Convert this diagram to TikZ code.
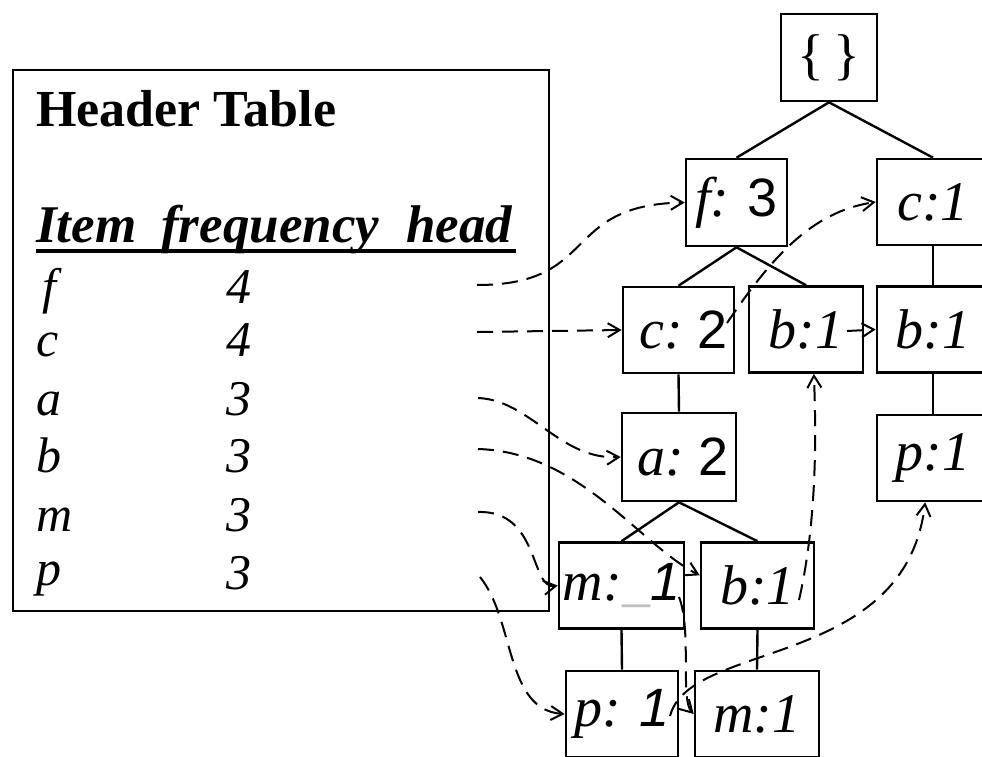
\documentclass[tikz,border=0pt]{standalone}
\usepackage{fontspec}
\setmainfont{Liberation Serif}
\newfontfamily\sansnum{Liberation Sans}
\usetikzlibrary{arrows.meta}

\newcommand{\nup}[1]{{\sansnum\upshape\fontsize{54}{58}\selectfont #1}}
\newcommand{\nit}[1]{{\sansnum\itshape\fontsize{54}{58}\selectfont #1}}

\begin{document}
\begin{tikzpicture}[x=1pt, y=-1pt, line join=miter,
  tbox/.style={draw, line width=2.6pt, inner sep=0pt, minimum height=86pt,
    font=\fontsize{56}{60}\selectfont\itshape},
  tedge/.style={line width=2.4pt},
  link/.style={line width=2pt, dash pattern=on 16pt off 9pt,
    -{Straight Barb[length=12pt,width=14pt]}},
  item/.style={anchor=base west, inner sep=0pt, font=\fontsize{50}{54}\selectfont\itshape},
  freq/.style={anchor=base, inner sep=0pt, font=\fontsize{50}{54}\selectfont\itshape}]

  %% ==== header table ====
  \node[draw, line width=2.6pt, minimum width=536pt, minimum height=541pt, inner sep=0pt] (htab) at (281,340.5) {};
  \node[anchor=base west, inner sep=0pt, font=\fontsize{52}{56}\selectfont\bfseries] (htitle) at (36,126) {Header Table};
  \node[anchor=base west, inner sep=0pt, font=\fontsize{53}{56}\selectfont\bfseries\itshape] (hcols) at (36,242)
    {Item\hspace{25pt}frequency\hspace{27pt}head};
  \draw[line width=4pt] (36,251) -- (516,251);

  \node[item] (if) at (42,303) {f};   \node[freq] (nf) at (239,303) {4};
  \node[item] (ic) at (36,356) {c};   \node[freq] (nc) at (239,356) {4};
  \node[item] (ia) at (36,415) {a};   \node[freq] (na) at (239,415) {3};
  \node[item] (ib) at (36,472) {b};   \node[freq] (nb) at (239,472) {3};
  \node[item] (im) at (36,531) {m};   \node[freq] (nm) at (239,531) {3};
  \node[item] (ip) at (36,585) {p};   \node[freq] (np) at (239,589) {3};

  % head column: where the node-links start
  \coordinate (hf) at (477,285);
  \coordinate (hc) at (477,332);
  \coordinate (ha) at (478,398);
  \coordinate (hb) at (478,449);
  \coordinate (hm) at (478,512);
  \coordinate (hp) at (480,577);

  %% ==== FP-tree ====
  \node[tbox, minimum width=96pt,  minimum height=87pt] (root) at (829,57.5) {\upshape\{\,\}};
  \node[tbox, minimum width=101pt, minimum height=87pt] (f3)   at (736.5,202.5) {f:\hspace{18pt}\nup{3}};
  \node[tbox, minimum width=112pt] (c1)   at (933,202) {c:1};
  \node[tbox, minimum width=111pt] (c2)   at (678.5,330) {\hspace{10pt}c:\hspace{14pt}\nup{2}};
  \node[tbox, minimum width=114pt] (b1m)  at (806,329.5) {b:1};
  \node[tbox, minimum width=112pt] (b1r)  at (933,329.5) {b:1};
  \node[tbox, minimum width=114pt, minimum height=88pt] (a2) at (679,457) {\hspace{8pt}a:\hspace{14pt}\nup{2}};
  \node[tbox, minimum width=112pt] (p1r)  at (933,458) {p:1};
  \node[tbox, minimum width=125pt] (m1l)  at (621.5,585.5) {m:{\color{black!25}\_}\nit{1}};
  \node[tbox, minimum width=113pt] (b1l)  at (757.5,585.5) {b:1};
  \node[tbox, minimum width=112pt] (p1b)  at (622,714) {p:\hspace{18pt}\nit{1}};
  \node[tbox, minimum width=124pt] (m1b)  at (757,714) {m:1};

  \draw[tedge] (root.south) -- (f3.north);
  \draw[tedge] (root.south) -- (c1.north);
  \draw[tedge] (f3.south) -- (c2.north);
  \draw[tedge] (f3.south) -- (b1m.north);
  \draw[tedge] (c1.south) -- (b1r.north);
  \draw[tedge] (c2.south) -- (a2.north);
  \draw[tedge] (b1r.south) -- (p1r.north);
  \draw[tedge] (a2.south) -- (m1l.north);
  \draw[tedge] (a2.south) -- (b1l.north);
  \draw[tedge] (m1l.south) -- (p1b.north);
  \draw[tedge] (b1l.south) -- (m1b.north);

  % link starts inside tree nodes
  \coordinate (c2out)  at (727,323);
  \coordinate (b1mout) at (847,331);
  \coordinate (m1lout) at (679,597);
  \coordinate (b1lout) at (799,600);
  \coordinate (p1bout) at (670,716);

  %% ==== node-links ====
  \draw[link] (hf) .. controls (600,285) and (560,205) .. (f3.west);
  \draw[link] (hc) -- (c2.west);
  \draw[link] (c2out) .. controls (770,260) and (810,212) .. (c1.west);
  \draw[link] (b1mout) -- (b1r.west);
  \draw[link] (ha) .. controls (530,400) and (560,460) .. (a2.west);
  \draw[link] (hb) .. controls (580,452) and (640,545) .. (b1l.170);
  \draw[link] (hm) .. controls (540,510) and (530,590) .. (m1l.west);
  \draw[link] (hp) .. controls (515,620) and (505,710) .. (p1b.west);
  \draw[link] (m1lout) .. controls (692,630) and (680,700) .. (m1b.west);
  \draw[link] (b1lout) .. controls (815,530) and (817,450) .. (b1m.-80);
  \draw[link] (p1bout) .. controls (690,640) and (905,670) .. (p1r.-100);

  \pgfresetboundingbox
  \path[use as bounding box] (0,0) rectangle (982,756);
\end{tikzpicture}
\end{document}
